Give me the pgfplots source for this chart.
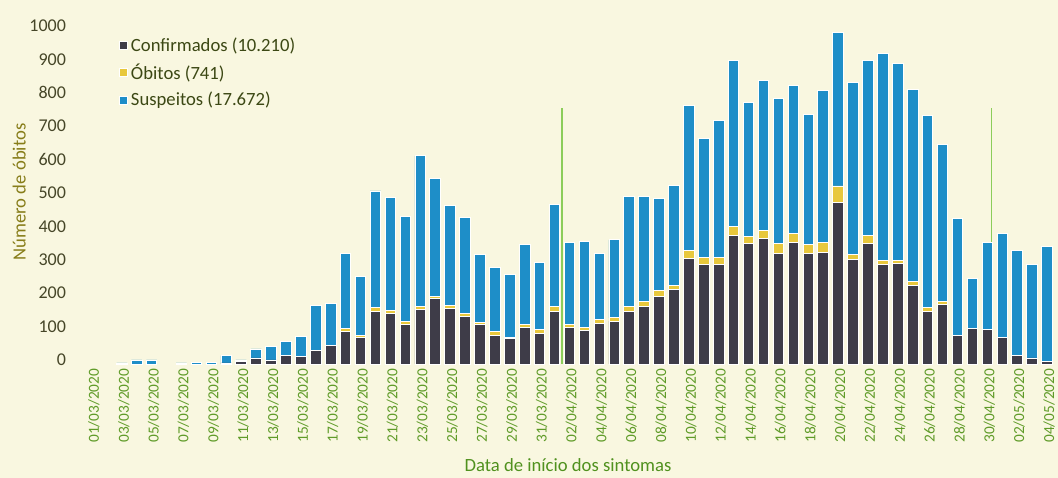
\documentclass[border=0pt]{standalone}
\usepackage{pgfplots}
\pgfplotsset{compat=1.18}
\usepackage{pgfplotstable}
\usepackage{fontspec}
\setmainfont{Carlito}
\definecolor{conf}{RGB}{62,60,72}
\definecolor{obit}{RGB}{232,200,60}
\definecolor{susp}{RGB}{30,142,200}
\definecolor{bg}{RGB}{249,247,224}
\definecolor{ytick}{RGB}{70,70,40}
\definecolor{ylab}{RGB}{135,125,25}
\definecolor{xtick}{RGB}{95,155,40}
\definecolor{xlab}{RGB}{80,145,30}
\definecolor{legtxt}{RGB}{60,72,20}
\definecolor{vline}{RGB}{140,205,90}

\pgfplotstableread{
x conf obit susp
0 0 0 0
1 0 0 0
2 0 0 3
3 0 0 12
4 0 0 12
5 0 0 0
6 0 0 3
7 0 0 5
8 0 0 5
9 3 0 22
10 8 0 4
11 18 0 27
12 12 0 40
13 25 0 41
14 23 0 60
15 40 0 136
16 56 0 124
17 97 8 225
18 78 6 178
19 158 10 350
20 150 10 338
21 118 8 316
22 163 10 450
23 195 8 352
24 166 8 300
25 142 8 290
26 118 7 203
27 86 10 194
28 75 5 188
29 108 10 240
30 92 10 202
31 158 15 305
32 108 10 247
33 99 10 258
34 122 10 198
35 128 10 234
36 158 15 330
37 173 15 315
38 202 17 278
39 224 12 298
40 315 25 435
41 298 22 355
42 298 22 410
43 385 28 495
44 360 22 400
45 375 25 448
46 332 28 435
47 365 25 445
48 332 25 390
49 335 30 455
50 485 48 460
51 312 15 517
52 360 25 525
53 298 12 620
54 302 8 590
55 235 12 575
56 158 12 573
57 178 8 472
58 85 0 350
59 105 0 150
60 103 0 260
61 78 0 314
62 25 0 315
63 18 0 279
64 8 0 345
}\data

\begin{document}
\begin{tikzpicture}
\fill[bg] (0pt,0pt) rectangle (793.5pt,358.5pt);
\begin{axis}[
  at={(60pt,85.5pt)}, anchor=south west,
  scale only axis,
  width=732pt, height=258pt,
  ybar stacked,
  bar width=7.9pt,
  xmin=-0.8, xmax=64.6,
  ymin=0, ymax=1030,
  axis line style={draw=none},
  major tick length=0pt,
  ytick={0,100,...,1000},
  /pgf/number format/set thousands separator={},
  xtick={0,2,...,64},
  xticklabels={01/03/2020,03/03/2020,05/03/2020,07/03/2020,09/03/2020,11/03/2020,13/03/2020,15/03/2020,17/03/2020,19/03/2020,21/03/2020,23/03/2020,25/03/2020,27/03/2020,29/03/2020,31/03/2020,02/04/2020,04/04/2020,06/04/2020,08/04/2020,10/04/2020,12/04/2020,14/04/2020,16/04/2020,18/04/2020,20/04/2020,22/04/2020,24/04/2020,26/04/2020,28/04/2020,30/04/2020,02/05/2020,04/05/2020},
  /pgf/number format/assume math mode=true,
  yticklabel style={font=\fontsize{13.5}{15}\selectfont, text=ytick, xshift=-7pt, yshift=3pt},
  xticklabel style={font=\fontsize{11.5}{13}\selectfont, text=xtick, xshift=-2.5pt, rotate=90, anchor=east, yshift=-4pt},
  ylabel={Número de óbitos},
  ylabel style={font=\fontsize{14}{16}\selectfont, text=ylab, yshift=-4pt},
  xlabel={Data de início dos sintomas},
  xlabel style={font=\fontsize{14}{16}\selectfont, text=xlab, yshift=-5pt},
  legend style={at={(0.036,0.965)}, anchor=north west, draw=none, fill=none,
    font=\fontsize{14}{16}\selectfont, text=legtxt, row sep=4pt},
  legend cell align=left,
  legend image code/.code={\fill[#1] (0pt,-3pt) rectangle (6pt,3pt);},
  clip=false,
]
\addplot[fill=conf, draw=white, line width=0.7pt] table[x=x,y=conf]{\data};
\addlegendentry{Confirmados (10.210)}
\addplot[fill=obit, draw=white, line width=0.7pt] table[x=x,y=obit]{\data};
\addlegendentry{Óbitos (741)}
\addplot[fill=susp, draw=white, line width=0.7pt] table[x=x,y=susp]{\data};
\addlegendentry{Suspeitos (17.672)}
\draw[vline, line width=0.8pt] (axis cs:31.5,0) -- (axis cs:31.5,766);
\draw[vline, line width=0.8pt] (axis cs:60.3,0) -- (axis cs:60.3,766);
\end{axis}
\pgfresetboundingbox
\useasboundingbox (0pt,0pt) rectangle (793.5pt,358.5pt);
\end{tikzpicture}
\end{document}
